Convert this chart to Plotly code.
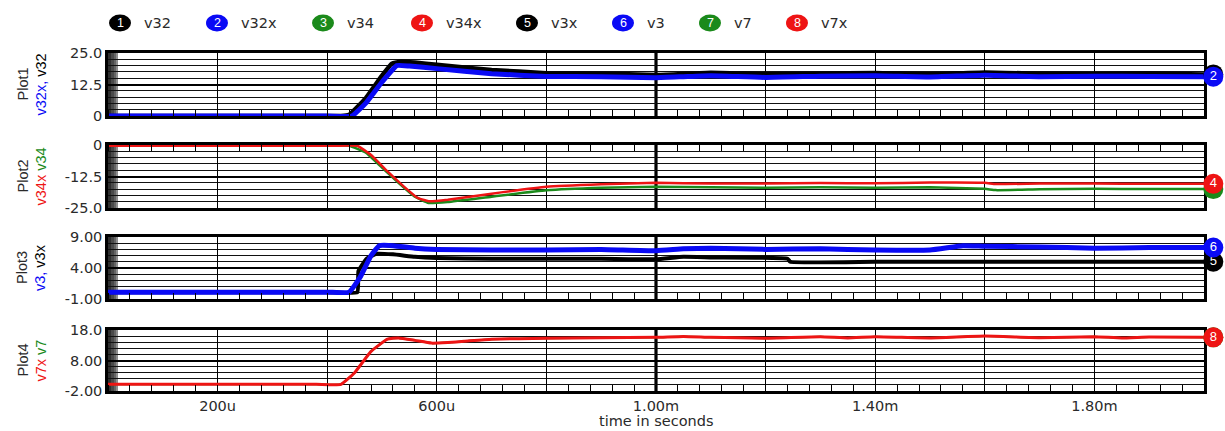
import plotly.graph_objects as go

# ---------------- data (time in microseconds) ----------------
series_names = ["v32", "v32x", "v34", "v34x", "v3x", "v3", "v7", "v7x"]

t_v32 = [0, 380, 425, 440, 470, 500, 518, 535, 560, 600, 700, 800, 900, 1000, 1040, 1100, 1200, 1300, 1400, 1500, 1600, 1700, 1800, 1900, 2000]
v32 = [0, 0, 0, 0.5, 7.0, 16.0, 20.8, 21.5, 21.2, 20.3, 18.3, 17.0, 16.8, 16.3, 16.6, 17.2, 16.6, 16.8, 17.1, 16.6, 17.3, 16.8, 16.6, 16.9, 16.5]

t_v32x = [0, 400, 445, 470, 500, 527, 550, 600, 700, 800, 900, 1000, 1050, 1100, 1200, 1300, 1400, 1500, 1600, 1700, 1800, 1900, 2000]
v32x = [0, 0, 0, 5.0, 13.5, 20.0, 19.8, 18.8, 16.8, 15.7, 15.6, 15.2, 15.6, 16.0, 15.3, 15.8, 16.0, 15.5, 16.2, 15.6, 15.8, 15.7, 15.6]

t_v34 = [0, 400, 440, 470, 500, 530, 560, 585, 620, 700, 800, 900, 1000, 1100, 1200, 1300, 1400, 1500, 1600, 1620, 1700, 1800, 1900, 2000]
v34 = [-0.3, -0.3, -0.3, -3.0, -9.0, -15.0, -20.5, -23.0, -22.6, -20.5, -18.0, -17.0, -16.6, -16.8, -17.0, -16.8, -17.0, -16.8, -17.4, -17.9, -17.6, -17.4, -17.5, -17.5]

t_v34x = [0, 410, 455, 480, 510, 540, 565, 585, 620, 700, 800, 900, 1000, 1100, 1200, 1300, 1400, 1500, 1600, 1620, 1700, 1800, 1900, 2000]
v34x = [-0.3, -0.3, -0.3, -4.0, -10.5, -16.5, -21.0, -22.3, -21.7, -19.3, -16.6, -15.6, -15.0, -15.3, -15.3, -15.1, -15.2, -14.9, -15.0, -15.5, -15.3, -15.3, -15.4, -15.4]

t_v3x = [0, 400, 455, 457, 472, 490, 520, 560, 600, 700, 800, 900, 1000, 1050, 1100, 1240, 1245, 1400, 1600, 1800, 2000]
v3x = [0.1, 0.1, 0.1, 3.5, 5.5, 6.3, 6.2, 5.8, 5.6, 5.5, 5.5, 5.5, 5.4, 5.8, 5.7, 5.5, 5.0, 5.0, 5.0, 5.0, 5.0]

t_v3 = [0, 400, 440, 460, 480, 495, 520, 560, 600, 700, 800, 900, 1000, 1050, 1100, 1200, 1300, 1400, 1500, 1560, 1600, 1700, 1800, 1900, 2000]
v3 = [0.1, 0.1, 0.1, 2.5, 6.0, 7.6, 7.6, 7.2, 7.0, 6.9, 6.9, 7.0, 6.8, 7.1, 7.2, 7.0, 7.1, 6.9, 6.9, 7.6, 7.5, 7.4, 7.2, 7.3, 7.3]

t_v7x = [0, 380, 425, 450, 480, 510, 530, 560, 590, 620, 650, 700, 800, 900, 1000, 1050, 1100, 1200, 1300, 1350, 1400, 1500, 1600, 1700, 1800, 1850, 1900, 2000]
v7x = [0.2, 0.2, 0.2, 4.0, 11.0, 15.0, 15.4, 14.6, 13.7, 13.9, 14.3, 15.0, 15.3, 15.5, 15.6, 15.9, 15.6, 15.3, 15.8, 15.4, 15.8, 15.4, 16.0, 15.5, 15.8, 15.4, 15.7, 15.6]

t_v7 = list(t_v7x)
v7 = list(v7x)

x_tick_vals = [200, 400, 600, 800, 1000, 1200, 1400, 1600, 1800]
x_tick_text = ["200u", "", "600u", "", "1.00m", "", "1.40m", "", "1.80m"]

# ---------------- style ----------------
BLACK = "#000000"
BLUE = "#0a0af5"
GREEN = "#1b8a1b"
RED = "#ee1414"
series_colors = [BLACK, BLUE, GREEN, RED, BLACK, BLUE, GREEN, RED]
TXT = "#2a2a2a"
HFONT = "DejaVu Sans"
VFONT = "Liberation Sans"

W, H = 1225, 431
ML, MR, MT, MB = 108, 2, 53, 39
PLOT_RIGHT = 1204                 # right edge of the framed plots (px)
PW = W - ML - MR                  # full drawable width (incl. end-marker room)
PH = H - MT - MB
XDOM = (PLOT_RIGHT - ML) / PW     # domain fraction of the framed plots
X_RANGE = [0, 2000]
MARK_RANGE = [0, X_RANGE[1] / XDOM]   # marker axis spanning the full width, same scale

def px_x(px):
    return (px - ML) / PW

def px_y(py):
    return (H - MB - py) / PH

plots = [
    dict(name="Plot1", yr=[0, 25], yt=[0, 12.5, 25], ytt=["0", "12.5", "25.0"], ydt=2.5,
         dom=[px_y(116), px_y(53)], top=False,
         label=[("v32x, ", BLUE), ("v32", BLACK)],
         series=[(t_v32, v32, 0, 4.5), (t_v32x, v32x, 1, 5)]),
    dict(name="Plot2", yr=[-25, 0], yt=[-25, -12.5, 0], ytt=["-25.0", "-12.5", "0"], ydt=2.5,
         dom=[px_y(208), px_y(145)], top=True,
         label=[("v34x ", RED), ("v34", GREEN)],
         series=[(t_v34, v34, 2, 2.5), (t_v34x, v34x, 3, 2.5)]),
    dict(name="Plot3", yr=[-1, 9], yt=[-1, 4, 9], ytt=["-1.00", "4.00", "9.00"], ydt=1,
         dom=[px_y(299), px_y(237)], top=False,
         label=[("v3, ", BLUE), ("v3x", BLACK)],
         series=[(t_v3x, v3x, 4, 4), (t_v3, v3, 5, 5)]),
    dict(name="Plot4", yr=[-2, 18], yt=[-2, 8, 18], ytt=["-2.00", "8.00", "18.0"], ydt=2,
         dom=[px_y(391), px_y(330)], top=False,
         label=[("v7x ", RED), ("v7", GREEN)],
         series=[(t_v7, v7, 6, 2), (t_v7x, v7x, 7, 3)]),
]

fig = go.Figure()
shapes = []
annotations = []

for i, p in enumerate(plots, start=1):
    sx = "" if i == 1 else str(i)
    xa, ya = "x" + sx, "y" + sx
    mx, my = "x" + str(i + 4), "y" + str(i + 4)   # hidden axes for end markers
    for (tt, vv, si, lw) in p["series"]:
        fig.add_trace(go.Scatter(
            x=tt, y=vv, mode="lines", xaxis=xa, yaxis=ya,
            line=dict(color=series_colors[si], width=lw, shape="spline", smoothing=0.35),
            showlegend=False, hoverinfo="skip"))
    for (tt, vv, si, lw) in p["series"]:
        fig.add_trace(go.Scatter(
            x=[tt[-1] + 17], y=[vv[-1]], mode="markers+text", xaxis=mx, yaxis=my,
            marker=dict(size=20, color=series_colors[si], line=dict(width=0)),
            text=[str(si + 1)], textposition="middle center",
            textfont=dict(color="white", size=13, family=VFONT),
            cliponaxis=False, showlegend=False, hoverinfo="skip"))

    xa_layout = dict(
        domain=[0, XDOM], range=X_RANGE, anchor=ya,
        tickmode="array", tickvals=x_tick_vals, ticktext=x_tick_text,
        ticks="", showticklabels=(i == 4),
        showgrid=True, gridcolor=BLACK, gridwidth=1.3,
        showline=True, mirror=True, linecolor=BLACK, linewidth=2.5,
        zeroline=False,
        side="top" if p["top"] else "bottom",
        minor=dict(tickmode="linear", tick0=0, dtick=40, ticks="inside", ticklen=6,
                   tickcolor=BLACK, tickwidth=1.3, showgrid=False),
        tickfont=dict(family=HFONT, size=14.5, color=TXT),
    )
    mx_layout = dict(domain=[0, 1], range=MARK_RANGE, anchor=my,
                     visible=False, showgrid=False, zeroline=False)
    my_layout = dict(domain=p["dom"], range=p["yr"], anchor=mx,
                     visible=False, showgrid=False, zeroline=False)
    ya_layout = dict(
        domain=p["dom"], range=p["yr"], anchor=xa,
        tickmode="array", tickvals=p["yt"], ticktext=p["ytt"], ticks="",
        showgrid=True, gridcolor=BLACK, gridwidth=2.2,
        showline=True, mirror=True, linecolor=BLACK, linewidth=2.5,
        zeroline=False,
        minor=dict(tickmode="linear", tick0=p["yr"][0], dtick=p["ydt"], showgrid=True,
                   gridcolor="#111111", gridwidth=1, ticks=""),
        tickfont=dict(family=HFONT, size=14.5, color=TXT),
    )
    fig.update_layout(**{("xaxis" + sx): xa_layout, ("yaxis" + sx): ya_layout,
                         ("xaxis" + str(i + 4)): mx_layout, ("yaxis" + str(i + 4)): my_layout})

    shapes.append(dict(type="line", xref=xa, yref=ya + " domain", x0=1000, x1=1000, y0=0, y1=1,
                       line=dict(color=BLACK, width=3.2), layer="below"))
    strip = [("#0a0a0a", 0, 3), ("#2a2a2a", 3, 6), ("#4a4a4a", 6, 8), ("#7a7a7a", 8, 10)]
    for col, a, b in strip:
        shapes.append(dict(type="rect", xref=xa + " domain", xsizemode="pixel", xanchor=0,
                           x0=a, x1=b, yref=ya + " domain", y0=0, y1=1,
                           fillcolor=col, opacity=0.85, line=dict(width=0), layer="below"))
    annotations.append(dict(xref="paper", yref=ya + " domain", x=0, y=0.5, xshift=-86,
                            xanchor="center", yanchor="middle",
                            text=p["name"], textangle=-90, showarrow=False,
                            font=dict(family=VFONT, size=14.5, color=TXT)))
    lab = "".join(f"<span style='color:{c}'>{s}</span>" for s, c in p["label"])
    annotations.append(dict(xref="paper", yref=ya + " domain", x=0, y=0.5, xshift=-68,
                            xanchor="center", yanchor="middle",
                            text=lab, textangle=-90, showarrow=False,
                            font=dict(family=VFONT, size=14.5, color=TXT)))

legend_px = [120, 217, 323, 422, 527, 623, 710, 797]
ly = px_y(23)
for k, name in enumerate(series_names):
    cx = px_x(legend_px[k])
    shapes.append(dict(type="circle", xref="paper", yref="paper", xsizemode="pixel", ysizemode="pixel",
                       xanchor=cx, yanchor=ly, x0=-11, x1=11, y0=-8.5, y1=8.5,
                       fillcolor=series_colors[k], line=dict(width=0), layer="below"))
    annotations.append(dict(xref="paper", yref="paper", x=cx, y=ly, xanchor="center", yanchor="middle",
                            text=str(k + 1), showarrow=False,
                            font=dict(family=VFONT, size=12.5, color="white")))
    annotations.append(dict(xref="paper", yref="paper", x=px_x(legend_px[k] + 22), y=ly,
                            xanchor="left", yanchor="middle", text=name, showarrow=False,
                            font=dict(family=HFONT, size=14.5, color=TXT)))

annotations.append(dict(xref="x", yref="paper", x=1000, y=0, yshift=-29, yanchor="middle",
                        text="time in seconds", showarrow=False,
                        font=dict(family=HFONT, size=14.5, color=TXT)))

fig.update_layout(
    width=W, height=H, margin=dict(l=ML, r=MR, t=MT, b=MB, pad=0),
    paper_bgcolor="white", plot_bgcolor="rgba(0,0,0,0)",
    shapes=shapes, annotations=annotations, showlegend=False,
)

html = fig.to_html(include_plotlyjs=True, full_html=True, config={"displayModeBar": False})
html = html.replace("<head>", "<head><style>html,body{margin:0;padding:0;overflow:hidden;}</style>", 1)
with open("out.html", "w", encoding="utf-8") as f:
    f.write(html)
